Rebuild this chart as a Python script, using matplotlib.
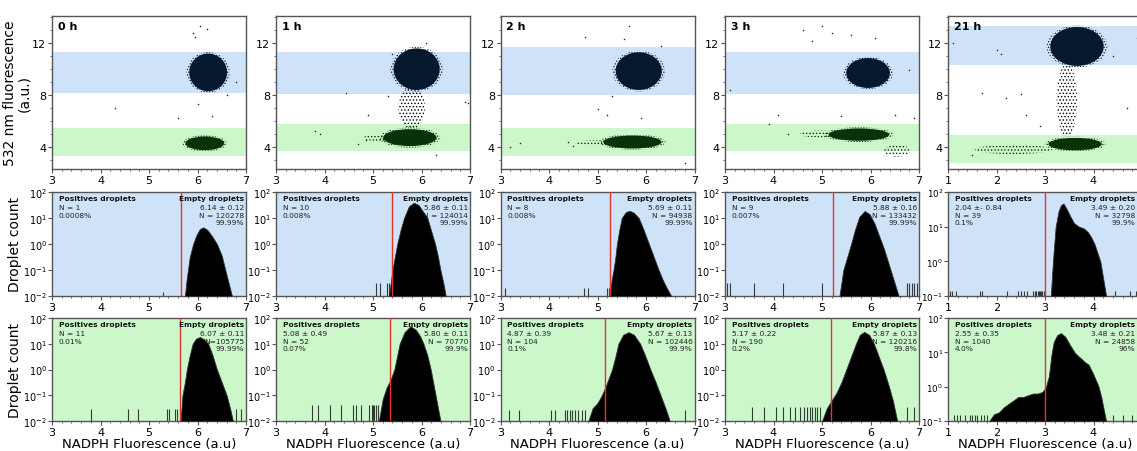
import numpy as np
import matplotlib
matplotlib.use("Agg")
import matplotlib.pyplot as plt
from matplotlib.patches import Ellipse
from matplotlib.ticker import AutoMinorLocator, LogLocator, NullFormatter

plt.rcParams['hatch.linewidth'] = 0.6

# ---------------- data ----------------
times = ["0 h", "1 h", "2 h", "3 h", "21 h"]
xlims = [(3, 7), (3, 7), (3, 7), (3, 7), (1, 5)]
xticks = [[3, 4, 5, 6, 7]] * 4 + [[1, 2, 3, 4]]

# scatter-row bands (y ranges)
blue_band = [(8.15, 11.3), (8.1, 11.3), (8.0, 11.7), (8.1, 11.3), (10.3, 13.3)]
green_band = [(3.3, 5.45), (3.7, 5.8), (3.3, 5.45), (3.7, 5.8), (2.8, 4.9)]

# main droplet clusters: centre x, centre y, full width, full height
blue_cx = [6.22, 5.90, 5.85, 5.95, 3.66]
blue_cy = [9.75, 10.0, 9.85, 9.70, 11.75]
blue_w = [0.78, 0.95, 0.95, 0.90, 1.10]
blue_h = [2.9, 3.2, 2.9, 2.3, 3.0]
green_cx = [6.15, 5.76, 5.72, 5.76, 3.62]
green_cy = [4.28, 4.72, 4.38, 4.95, 4.22]
green_w = [0.80, 1.10, 1.20, 1.25, 1.10]
green_h = [1.05, 1.30, 1.00, 0.95, 0.95]

# sparse populations (bridges / tails): cx, cy, w, h, colour index (0 black,1 green)
sparse_pops = [
    [],
    [(5.80, 7.0, 0.55, 3.2, 0), (5.1, 4.7, 0.6, 0.5, 1)],
    [(5.0, 4.3, 0.9, 0.45, 1)],
    [(4.95, 5.0, 0.8, 0.55, 1), (6.55, 3.7, 0.55, 0.9, 1)],
    [(3.45, 7.6, 0.42, 5.6, 0), (2.35, 3.8, 1.6, 0.7, 1)],
]

# isolated droplets (x, y)
stray_x = [
    [5.6, 4.3, 6.05, 6.2, 5.95, 6.6, 6.3, 6.0, 6.8, 5.9],
    [4.45, 3.8, 3.9, 4.7, 4.85, 6.9, 6.95, 5.4, 6.1, 5.3, 4.9, 6.3],
    [4.75, 5.3, 5.55, 5.65, 5.2, 4.4, 4.5, 3.2, 3.4, 6.3, 6.8, 5.0, 5.9],
    [3.1, 4.6, 4.8, 5.0, 5.2, 5.4, 4.1, 4.3, 3.9, 6.5, 6.8, 6.9, 5.6, 6.1],
    [1.1, 1.7, 2.2, 2.5, 2.0, 4.4, 4.7, 2.6, 2.9, 1.5, 4.9, 2.1],
]
stray_y = [
    [6.2, 7.0, 13.3, 13.1, 12.5, 8.0, 6.4, 7.3, 9.0, 12.8],
    [8.2, 5.2, 5.0, 4.2, 4.5, 7.5, 7.4, 11.2, 12.0, 7.9, 6.5, 3.4],
    [12.5, 7.9, 12.3, 13.3, 6.5, 4.4, 4.1, 4.0, 4.3, 11.8, 2.8, 6.9, 6.2],
    [8.4, 13.0, 12.2, 13.3, 12.8, 6.4, 6.5, 5.0, 5.8, 6.5, 9.9, 6.2, 12.6, 12.4],
    [12.0, 8.2, 7.8, 8.1, 11.5, 11.0, 7.0, 6.5, 5.6, 3.4, 12.4, 11.2],
]

# histogram profiles (x, log10 droplet count) -- middle row (blue droplets)
mid_hist_x = [
    [5.74, 5.78, 5.84, 5.91, 5.98, 6.05, 6.12, 6.20, 6.30, 6.40, 6.50, 6.60, 6.71],
    [5.33, 5.40, 5.45, 5.50, 5.57, 5.64, 5.74, 5.84, 5.94, 6.03, 6.12, 6.20, 6.28, 6.34, 6.39, 6.45, 6.50],
    [5.25, 5.29, 5.33, 5.37, 5.40, 5.45, 5.50, 5.58, 5.66, 5.75, 5.85, 5.95, 6.06, 6.16, 6.26, 6.35, 6.43, 6.52],
    [5.36, 5.44, 5.52, 5.60, 5.68, 5.77, 5.88, 5.98, 6.08, 6.18, 6.28, 6.38, 6.48, 6.58],
    [3.12, 3.15, 3.18, 3.22, 3.28, 3.33, 3.38, 3.45, 3.52, 3.60, 3.70, 3.80, 3.88, 3.95, 4.02, 4.08, 4.14, 4.20, 4.26],
]
mid_hist_logy = [
    [-2, -1.3, -0.5, 0.0, 0.35, 0.58, 0.64, 0.55, 0.30, 0.0, -0.45, -1.2, -2],
    [-2, -1.0, -0.5, 0.0, 0.55, 1.0, 1.45, 1.59, 1.5, 1.25, 1.0, 0.5, 0.0, -0.5, -1.0, -1.5, -2],
    [-2, -1.4, -1.0, -0.5, 0.0, 0.55, 1.0, 1.22, 1.28, 1.2, 1.0, 0.55, 0.0, -0.5, -1.0, -1.4, -1.7, -2],
    [-2, -1.0, -0.5, 0.0, 0.55, 1.05, 1.27, 1.15, 0.8, 0.3, -0.2, -0.8, -1.4, -2],
    [-1, -0.3, 0.3, 1.0, 1.45, 1.62, 1.67, 1.5, 1.3, 1.1, 1.0, 0.95, 0.85, 0.7, 0.5, 0.25, 0.0, -0.5, -1],
]
mid_single_x = [
    [5.28],
    [5.07, 5.15, 5.29, 5.33],
    [3.09, 4.73, 4.81, 5.19, 5.23],
    [3.05, 3.10, 3.60, 4.20, 5.00, 6.75, 6.80, 6.85, 6.90, 6.95],
    [1.05, 1.08, 1.17, 1.66, 1.71, 2.22, 2.44, 2.51, 2.57, 2.63, 2.75, 2.79, 2.82, 2.86, 2.87, 2.90, 2.92, 2.94, 2.97, 4.45, 4.76, 4.87],
]
mid_single_logy = [-1.85, -1.5, -1.7, -1.5, -0.86]

# bottom row (green droplets)
bot_hist_x = [
    [5.65, 5.69, 5.74, 5.78, 5.84, 5.90, 5.97, 6.05, 6.13, 6.22, 6.31, 6.40, 6.50, 6.60, 6.67, 6.73],
    [5.12, 5.20, 5.28, 5.35, 5.44, 5.50, 5.55, 5.65, 5.77, 5.88, 5.97, 6.04, 6.12, 6.19, 6.24, 6.29, 6.34, 6.39],
    [4.81, 4.90, 5.00, 5.09, 5.18, 5.24, 5.30, 5.37, 5.43, 5.53, 5.64, 5.75, 5.88, 5.98, 6.09, 6.20, 6.30, 6.40, 6.49],
    [5.00, 5.10, 5.20, 5.30, 5.40, 5.50, 5.60, 5.70, 5.78, 5.87, 5.97, 6.07, 6.17, 6.27, 6.37, 6.46, 6.55],
    [1.85, 1.95, 2.05, 2.15, 2.25, 2.35, 2.45, 2.55, 2.65, 2.75, 2.85, 2.95, 3.02, 3.08, 3.13, 3.18, 3.25, 3.33, 3.42, 3.52, 3.62, 3.72, 3.82, 3.90, 4.00, 4.10, 4.16, 4.21, 4.26],
]
bot_hist_logy = [
    [-2, -1.0, -0.5, 0.0, 0.55, 1.0, 1.2, 1.26, 1.18, 1.0, 0.55, 0.0, -0.5, -1.0, -1.5, -2],
    [-2, -1.15, -0.7, -0.45, 0.0, 0.55, 1.0, 1.45, 1.68, 1.55, 1.3, 1.0, 0.55, 0.0, -0.5, -1.0, -1.5, -2],
    [-2, -1.5, -1.3, -1.0, -0.6, -0.3, 0.0, 0.5, 1.0, 1.35, 1.45, 1.35, 1.0, 0.55, 0.0, -0.5, -1.0, -1.5, -2],
    [-2, -1.5, -1.2, -0.9, -0.5, 0.0, 0.5, 1.0, 1.35, 1.46, 1.35, 1.0, 0.5, 0.0, -0.6, -1.2, -2],
    [-1, -0.8, -0.75, -0.6, -0.5, -0.4, -0.3, -0.3, -0.25, -0.2, -0.2, -0.15, 0.0, 0.3, 0.9, 1.3, 1.5, 1.56, 1.45, 1.2, 0.98, 0.85, 0.72, 0.64, 0.35, 0.02, -0.3, -0.66, -1],
]
bot_single_x = [
    [3.80, 4.57, 4.77, 5.38, 5.42, 5.53, 5.57, 6.80, 6.90],
    [3.74, 3.86, 4.12, 4.33, 4.59, 4.64, 4.76, 4.91, 4.97, 5.00, 5.03, 5.07, 5.10],
    [3.18, 3.39, 4.04, 4.12, 4.33, 4.38, 4.43, 4.48, 4.53, 4.60, 4.68, 4.74, 6.81],
    [3.55, 3.80, 4.05, 4.20, 4.35, 4.45, 4.55, 4.62, 4.70, 4.75, 4.80, 4.85, 4.90, 4.95, 6.75, 6.90],
    [1.12, 1.18, 1.25, 1.35, 1.45, 1.50, 1.55, 1.60, 1.68, 1.75, 1.80, 2.20, 2.35, 2.42, 2.55, 2.62, 4.40, 4.60, 4.80],
]
bot_single_logy = [-1.54, -1.39, -1.56, -1.45, -0.83]

thresholds_mid = [5.66, 5.39, 5.25, 5.23, 3.0]
thresholds_bot = [5.64, 5.35, 5.15, 5.19, 3.0]

mid_pos_text = [
    ["N = 1", "0.0008%"],
    ["N = 10", "0.008%"],
    ["N = 8", "0.008%"],
    ["N = 9", "0.007%"],
    ["2.04 \u00b1- 0.84", "N = 39", "0.1%"],
]
mid_empty_text = [
    ["6.14 \u00b1 0.12", "N = 120278", "99.99%"],
    ["5.86 \u00b1 0.11", "N = 124014", "99.99%"],
    ["5.69 \u00b1 0.11", "N = 94938", "99.99%"],
    ["5.88 \u00b1 0.16", "N = 133432", "99.99%"],
    ["3.49 \u00b1 0.20", "N = 32798", "99.9%"],
]
bot_pos_text = [
    ["N = 11", "0.01%"],
    ["5.08 \u00b1 0.49", "N = 52", "0.07%"],
    ["4.87 \u00b1 0.39", "N = 104", "0.1%"],
    ["5.17 \u00b1 0.22", "N = 190", "0.2%"],
    ["2.55 \u00b1 0.35", "N = 1040", "4.0%"],
]
bot_empty_text = [
    ["6.07 \u00b1 0.11", "N=105775", "99.99%"],
    ["5.80 \u00b1 0.11", "N = 70770", "99.9%"],
    ["5.67 \u00b1 0.13", "N = 102446", "99.9%"],
    ["5.87 \u00b1 0.13", "N = 120216", "99.8%"],
    ["3.48 \u00b1 0.21", "N = 24858", "96%"],
]

# ---------------- style ----------------
BLUE_BG = '#cfe3f8'
GREEN_BG = '#cbf7cb'
NAVY = '#06182e'
DKGREEN = '#083208'
SPINE = '#555555'

W, H = 1137, 452
fig = plt.figure(figsize=(W / 100, H / 100), dpi=100)

col_left = [52, 276, 500.5, 725, 948]
col_w = 194
rows = [(17, 170), (193, 297), (319, 422)]


def add_ax(c, r):
    top, bot = rows[r]
    return fig.add_axes([col_left[c] / W, 1 - bot / H, col_w / W, (bot - top) / H])


def style(ax, c):
    for s in ax.spines.values():
        s.set_color(SPINE)
        s.set_linewidth(1.0)
    ax.set_xlim(*xlims[c])
    ax.set_xticks(xticks[c])
    ax.xaxis.set_minor_locator(AutoMinorLocator(5))
    ax.tick_params(axis='both', which='major', labelsize=8, length=3, color=SPINE, pad=1)
    ax.tick_params(axis='both', which='minor', length=1.5, color=SPINE)


for c in range(5):
    # ---------- scatter row ----------
    ax = add_ax(c, 0)
    style(ax, c)
    ax.set_ylim(2.3, 14.1)
    ax.set_yticks([4, 8, 12])
    ax.yaxis.set_minor_locator(AutoMinorLocator(4))
    ax.axhspan(*blue_band[c], color=BLUE_BG, lw=0, zorder=0)
    ax.axhspan(*green_band[c], color=GREEN_BG, lw=0, zorder=0)
    for (cx, cy, w, h, ci) in sparse_pops[c]:
        col = 'black' if ci == 0 else DKGREEN
        ax.add_patch(Ellipse((cx, cy), w, h, facecolor='none', edgecolor=col,
                             lw=0, hatch='.....', zorder=1))
    # halos
    ax.add_patch(Ellipse((blue_cx[c], blue_cy[c]), blue_w[c] * 1.14, blue_h[c] * 1.08,
                         facecolor='none', edgecolor=NAVY, lw=0, hatch='......', zorder=1))
    ax.add_patch(Ellipse((green_cx[c], green_cy[c]), green_w[c] * 1.14, green_h[c] * 1.2,
                         facecolor='none', edgecolor=DKGREEN, lw=0, hatch='......', zorder=1))
    # cores
    ax.add_patch(Ellipse((blue_cx[c], blue_cy[c]), blue_w[c], blue_h[c],
                         facecolor=NAVY, edgecolor='none', zorder=2))
    ax.add_patch(Ellipse((green_cx[c], green_cy[c]), green_w[c], green_h[c],
                         facecolor=DKGREEN, edgecolor='none', zorder=2))
    ax.scatter(stray_x[c], stray_y[c], s=1.2, color='#222222', lw=0, zorder=3)
    ax.text(0.03, 0.965, times[c], transform=ax.transAxes, fontsize=8,
            fontweight='bold', va='top', ha='left')
    if c == 0:
        ax.set_ylabel("532 nm fluorescence\n(a.u.)", fontsize=10, labelpad=1, linespacing=1.0)

    # ---------- histogram rows ----------
    for r, (hx, hy, sx, sy, thr, ptxt, etxt, bg) in enumerate([
        (mid_hist_x, mid_hist_logy, mid_single_x, mid_single_logy, thresholds_mid,
         mid_pos_text, mid_empty_text, BLUE_BG),
        (bot_hist_x, bot_hist_logy, bot_single_x, bot_single_logy, thresholds_bot,
         bot_pos_text, bot_empty_text, GREEN_BG)], start=1):
        ax = add_ax(c, r)
        style(ax, c)
        ax.set_facecolor(bg)
        ax.set_yscale('log')
        ylo = 1e-1 if c == 4 else 1e-2
        ax.set_ylim(ylo, 1e2)
        ax.yaxis.set_major_locator(LogLocator(base=10, numticks=10))
        ax.yaxis.set_minor_locator(LogLocator(base=10, subs=(), numticks=10))
        ax.yaxis.set_minor_formatter(NullFormatter())
        ax.tick_params(axis='y', which='major', labelsize=(6.3 if c == 4 else 7), pad=0.5)
        ax.vlines(sx[c], ylo, 10 ** np.full(len(sx[c]), sy[c]), color='black', lw=0.8,
                  alpha=0.75, zorder=2)
        ax.fill_between(hx[c], ylo, 10 ** np.asarray(hy[c]), color='black', lw=0.6,
                        edgecolor='#333333', zorder=3)
        ax.axvline(thr[c], color='#e8332a', lw=1.0, zorder=4)
        fs = 5.4
        ax.text(0.035, 0.975, "Positives droplets", transform=ax.transAxes, fontsize=fs,
                fontweight='bold', va='top', ha='left', color='#111111', zorder=5)
        ax.text(0.035, 0.88, "\n".join(ptxt[c]), transform=ax.transAxes, fontsize=fs,
                va='top', ha='left', color='#222222', linespacing=1.3, zorder=5)
        xr = 0.965 if c == 4 else 0.99
        ax.text(xr, 0.975, "Empty droplets", transform=ax.transAxes, fontsize=fs,
                fontweight='bold', va='top', ha='right', color='#111111', zorder=5)
        ax.text(xr, 0.88, "\n".join(etxt[c]), transform=ax.transAxes, fontsize=fs,
                va='top', ha='right', color='#222222', linespacing=1.3, zorder=5)
        if c == 0:
            ax.set_ylabel("Droplet count", fontsize=10, labelpad=1)
        if r == 2:
            ax.set_xlabel("NADPH Fluorescence (a.u)", fontsize=9.5, labelpad=0)

fig.savefig("out.png", dpi=100)
